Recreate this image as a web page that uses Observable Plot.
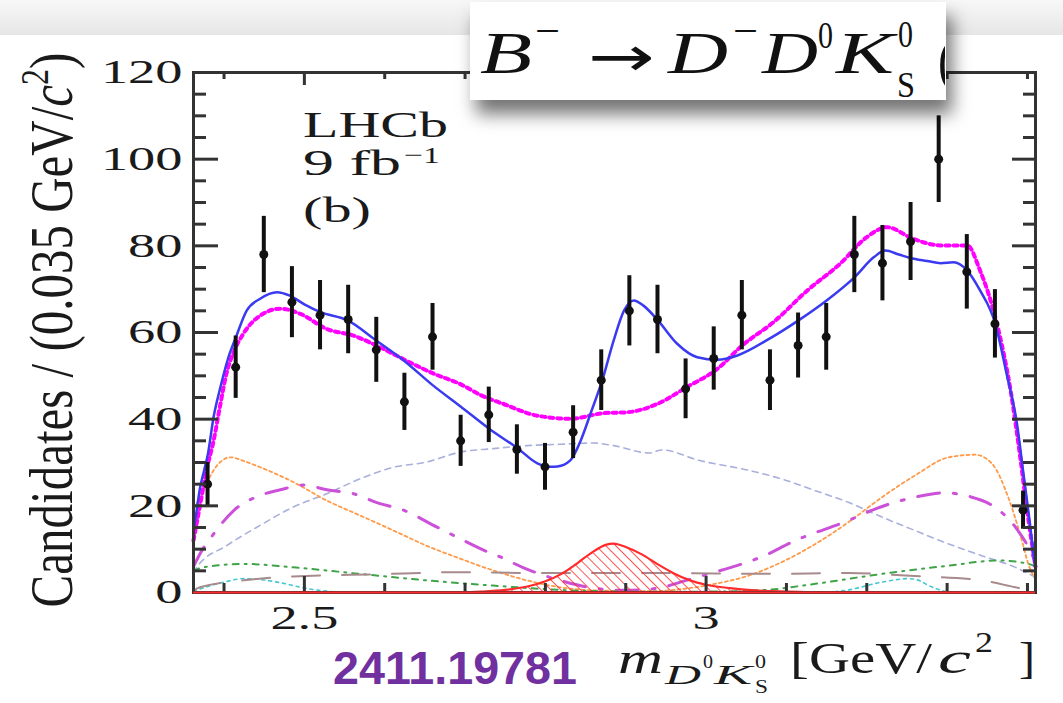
<!DOCTYPE html>
<html><head><meta charset="utf-8">
<script src="https://cdn.jsdelivr.net/npm/d3@7"></script>
<script src="https://cdn.jsdelivr.net/npm/@observablehq/plot@0.6"></script>
<style>body{margin:0;background:#fff}#chart{position:relative;width:1063px;height:703px}</style>
</head><body><div id="chart"></div>
<script>
// ---- data: binned candidates ----
const binCenters = [2.3795,2.4145,2.4495,2.4845,2.5195,2.5545,2.5895,2.6245,2.6595,2.6945,2.7295,2.7645,2.7995,2.8345,2.8695,2.9045,2.9395,2.9745,3.0095,3.0445,3.0795,3.1145,3.1495,3.1845,3.2195,3.2545,3.2895,3.3245,3.3595,3.3945];
const counts = [25,52,78,67,64,63,56,44,59,35,41,33,29,37,49,65,63,47,54,64,49,57,59,78,76,81,100,74,62,19];
const countErrors = [5,7.2,8.8,8.2,8,7.9,7.5,6.6,7.7,5.9,6.4,5.7,5.4,6.1,7,8.1,7.9,6.9,7.3,8,7,7.5,7.7,8.8,8.7,9,10,8.6,7.9,4.4];

// ---- total fit (blue) ----
const totalFitX = [2.362,2.366,2.370,2.375,2.380,2.387,2.395,2.405,2.415,2.428,2.445,2.466,2.482,2.500,2.520,2.554,2.589,2.624,2.660,2.694,2.730,2.766,2.790,2.805,2.815,2.831,2.844,2.856,2.871,2.885,2.898,2.910,2.922,2.940,2.964,2.989,3.014,3.039,3.080,3.115,3.150,3.185,3.209,3.223,3.240,3.254,3.275,3.292,3.308,3.325,3.341,3.360,3.374,3.387,3.395,3.403,3.410];
const totalFitY = [14,19,24,28,32,40.5,47,54,59,65,67.8,69.3,68.5,66.5,64.7,62.8,58.2,53.5,47.8,43,37.8,33.2,29.8,29,29.1,30.5,35.1,41.2,49.1,58.2,65.1,67.4,66.2,62.8,57.4,54.3,53.7,54.7,58.7,62.8,67.4,72.8,77.4,78.9,78,77.2,76.5,76,76.2,74.3,69.7,62,50.5,38.9,27.4,16,5];

// ---- alternative fit (magenta dotted) ----
const altFitX = [2.362,2.370,2.379,2.387,2.395,2.403,2.412,2.424,2.445,2.470,2.495,2.528,2.561,2.594,2.627,2.661,2.694,2.720,2.748,2.790,2.831,2.873,2.902,2.939,2.976,3.014,3.045,3.084,3.126,3.167,3.200,3.225,3.258,3.292,3.325,3.341,3.362,3.379,3.391,3.399,3.410];
const altFitY = [12,20,28.9,35,43,50.5,55.5,59.7,63.9,65.5,64.3,60.8,59.3,56.6,53.5,50.5,48.1,45.5,43.5,40.8,40.1,41.4,41.6,43.5,47.4,51.6,57,62.4,69.7,75.9,82,84.3,81.6,80.1,80.1,74.3,62,46.6,31.2,19.7,6];

// ---- components ----
const orangeX = [2.362,2.375,2.390,2.408,2.425,2.445,2.486,2.528,2.569,2.611,2.652,2.694,2.735,2.777,2.818,2.860,2.930,2.970,3.011,3.053,3.094,3.136,3.177,3.219,3.260,3.302,3.335,3.356,3.376,3.393,3.401,3.410];
const orangeY = [19,24,29,31.2,30.3,28.9,25.5,21.2,17.8,14.3,10.8,7.8,5.1,2.8,1.2,0.5,0.3,0.8,2.0,3.9,7.0,11.2,16.2,22.0,27.0,31.2,31.8,29.7,22,12,6.6,3];

const violetX = [2.362,2.370,2.387,2.412,2.445,2.470,2.499,2.528,2.561,2.594,2.619,2.665,2.694,2.719,2.744,2.773,2.818,2.860,2.900,2.940,2.970,3.003,3.045,3.070,3.111,3.177,3.211,3.260,3.296,3.327,3.356,3.385,3.401,3.410];
const violetY = [6,8.9,13.5,18.9,22.4,23.7,24.8,23.7,22.8,20.5,19.3,15.1,12.4,10.1,8.2,5.7,2.8,1.0,0.5,1.0,2.5,4.3,6.6,8.3,12,16.6,19.3,22,23,22.2,20.1,15.1,10.5,7];

const lavenderX = [2.362,2.366,2.403,2.445,2.486,2.528,2.569,2.611,2.652,2.694,2.735,2.777,2.818,2.860,2.885,2.929,2.945,2.991,3.053,3.094,3.136,3.177,3.219,3.260,3.302,3.343,3.385,3.410];
const lavenderY = [4.5,5.8,10.8,15.5,19.7,22.8,26.2,28.9,30.1,32.4,33.2,33.9,34.2,34.5,33.9,32.2,32.9,30.5,28.2,26.2,23.5,20.8,17.4,14.3,11.2,8.5,5.8,3.5];

const greenX = [2.362,2.374,2.424,2.486,2.569,2.652,2.735,2.818,2.900,3.000,3.074,3.136,3.219,3.302,3.364,3.401,3.410];
const greenY = [5,5.8,6.6,5.8,4.3,2.8,1.6,0.6,0.2,0.2,0.6,2.0,4.3,6.2,7.4,6.6,6];

const cyanX = [2.362,2.370,2.400,2.424,2.445,2.466,2.507,2.550,3.150,3.177,3.219,3.252,3.265,3.277,3.300];
const cyanY = [0.3,0.8,2.4,3.2,3.0,2.4,0.8,0.1,0.1,0.6,2.4,3.2,2.8,1.6,0.1];

const brownX = [2.362,2.370,2.424,2.486,2.590,2.694,2.777,2.949,3.074,3.177,3.248,3.343,3.385,3.410];
const brownY = [0.5,1.2,2.8,3.7,4.2,4.7,4.5,4.5,4.3,4.5,3.9,2.8,1.2,0.3];

// ---- signal (red hatched) ----
const signalX = [2.362,2.680,2.720,2.750,2.780,2.800,2.820,2.840,2.860,2.875,2.885,2.900,2.920,2.940,2.960,2.980,3.000,3.030,3.060,3.100,3.150,3.410];
const signalY = [0,0,0.2,0.6,1.5,2.6,4.3,6.8,9.5,11,11.3,10.5,8.8,6.5,4.4,2.8,1.8,1.0,0.5,0.2,0,0];

// ---- ticks ----
const yMajorTicks = [0,20,40,60,80,100,120];
const yTickLabels = ["0","20","40","60","80","100","120"];
const yMinorTicks = [5,10,15,25,30,35,45,50,55,65,70,75,85,90,95,105,110,115];
const xMajorTicks = [2.5,3];
const xTickLabels = ["2.5","3"];
const xMinorTicks = [2.4,2.6,2.7,2.8,2.9,3.1,3.2,3.3,3.4];

// ---- layout ----
const W = 1063, H = 703, mL = 193, mR = 28, mT = 72, mB = 111;
const xDom = [2.362, 3.41], yDom = [0, 120];
const pxX = (W - mL - mR) / (xDom[1] - xDom[0]);
const pxY = (H - mT - mB) / (yDom[1] - yDom[0]);

const pts = (xs, ys) => xs.map((x, i) => ({x, y: ys[i]}));
const data = binCenters.map((x, i) => ({x, n: counts[i], e: countErrors[i]}));
const tickCol = "#333";

const comp = (xs, ys, o) => Plot.line(pts(xs, ys), {x: "x", y: "y", curve: "monotone-x", ...o});

const plot = Plot.plot({
  width: W, height: H,
  marginLeft: mL, marginRight: mR, marginTop: mT, marginBottom: mB,
  x: {domain: xDom},
  y: {domain: yDom},
  style: {fontFamily: "Liberation Serif", color: "#1a1a1a", background: "transparent"},
  marks: [
    comp(lavenderX, lavenderY, {stroke: "#a9b0dc", strokeWidth: 1.6, strokeDasharray: "6,5"}),
    comp(orangeX, orangeY, {stroke: "#ff9a4a", strokeWidth: 1.8, strokeDasharray: "3,3"}),
    comp(violetX, violetY, {stroke: "#cc50d8", strokeWidth: 3, strokeDasharray: "22,14,3,14"}),
    comp(greenX, greenY, {stroke: "#3fa447", strokeWidth: 2, strokeDasharray: "6,6,2,6"}),
    comp(cyanX, cyanY, {stroke: "#45c8d0", strokeWidth: 1.6, strokeDasharray: "3,4"}),
    comp(brownX, brownY, {stroke: "#a88a8c", strokeWidth: 2, strokeDasharray: "28,22"}),
    Plot.areaY(pts(signalX, signalY), {x: "x", y: "y", curve: "monotone-x", fill: "url(#hatch)"}),
    comp(signalX, signalY, {stroke: "#ff2a2a", strokeWidth: 2.2}),
    comp(altFitX, altFitY, {stroke: "#ff00ff", strokeWidth: 4, strokeDasharray: "4,4"}),
    comp(totalFitX, totalFitY, {stroke: "#3a3af0", strokeWidth: 2.5}),
    Plot.ruleX(data, {x: "x", y1: d => d.n - d.e, y2: d => d.n + d.e, stroke: "#111", strokeWidth: 4}),
    Plot.dot(data, {x: "x", y: "n", r: 4.5, fill: "#111"}),
    Plot.ruleY(yMajorTicks, {y: d => d, x1: xDom[0], x2: xDom[0] + 25 / pxX, stroke: tickCol, strokeWidth: 3}),
    Plot.ruleY(yMinorTicks, {y: d => d, x1: xDom[0], x2: xDom[0] + 13 / pxX, stroke: tickCol, strokeWidth: 3}),
    Plot.ruleY(yMajorTicks, {y: d => d, x1: xDom[1] - 23 / pxX, x2: xDom[1], stroke: tickCol, strokeWidth: 3}),
    Plot.ruleY(yMinorTicks, {y: d => d, x1: xDom[1] - 12 / pxX, x2: xDom[1], stroke: tickCol, strokeWidth: 3}),
    Plot.ruleX(xMajorTicks, {x: d => d, y1: yDom[0], y2: yDom[0] + 16 / pxY, stroke: tickCol, strokeWidth: 3}),
    Plot.ruleX(xMinorTicks, {x: d => d, y1: yDom[0], y2: yDom[0] + 9 / pxY, stroke: tickCol, strokeWidth: 3}),
    Plot.ruleX(xMajorTicks, {x: d => d, y1: yDom[1] - 13 / pxY, y2: yDom[1], stroke: tickCol, strokeWidth: 3}),
    Plot.ruleX(xMinorTicks, {x: d => d, y1: yDom[1] - 7 / pxY, y2: yDom[1], stroke: tickCol, strokeWidth: 3}),
    Plot.frame({stroke: tickCol, strokeWidth: 3}),
    Plot.ruleY([0], {stroke: "#ff2a2a", strokeWidth: 2.2}),
    Plot.axisY({ticks: yMajorTicks, tickSize: 0, tickPadding: 11, fontSize: 34, label: null,
      tickFormat: d => yTickLabels[yMajorTicks.indexOf(d)]}),
    Plot.axisX({ticks: xMajorTicks, tickSize: 0, tickPadding: 12, fontSize: 34, label: null,
      tickFormat: d => xTickLabels[xMajorTicks.indexOf(d)]})
  ]
});

const svg = d3.select(plot);
// stretch the axis tick labels horizontally, like the reference
svg.selectAll('g[aria-label^="y-axis"] text, g[aria-label^="x-axis"] text').each(function() {
  const tr = this.getAttribute("transform");
  if (tr) {
    this.setAttribute("transform", tr + " scale(1.6,1)");
  } else {
    const x = +(this.getAttribute("x") || 0), y = +(this.getAttribute("y") || 0);
    this.setAttribute("x", 0); this.setAttribute("y", 0);
    this.setAttribute("transform", `translate(${x},${y}) scale(1.6,1)`);
  }
});

const defs = svg.insert("defs", ":first-child");
const pat = defs.append("pattern").attr("id", "hatch").attr("patternUnits", "userSpaceOnUse")
  .attr("width", 7).attr("height", 7).attr("patternTransform", "rotate(-45)");
pat.append("line").attr("x1", 0).attr("y1", 0).attr("x2", 0).attr("y2", 7)
  .attr("stroke", "#ff2a2a").attr("stroke-width", 1.6);
const grad = defs.append("linearGradient").attr("id", "topband").attr("x1", 0).attr("y1", 0).attr("x2", 0).attr("y2", 1);
grad.append("stop").attr("offset", "0%").attr("stop-color", "#f8f8f8");
grad.append("stop").attr("offset", "100%").attr("stop-color", "#e6e6e6");
const filt = defs.append("filter").attr("id", "shadow").attr("x", "-10%").attr("y", "-10%").attr("width", "130%").attr("height", "160%");
filt.append("feDropShadow").attr("dx", 6).attr("dy", 14).attr("stdDeviation", 9)
  .attr("flood-color", "#000").attr("flood-opacity", 0.55);

svg.insert("rect", "defs + *").attr("x", 0).attr("y", 0).attr("width", W).attr("height", 35).attr("fill", "url(#topband)");

function addText(parent, str, o) {
  const t = parent.append("text")
    .attr("x", o.x).attr("y", o.y)
    .attr("text-anchor", o.anchor || "start")
    .attr("font-family", o.family || "Liberation Serif")
    .attr("font-size", o.fs)
    .attr("font-style", o.italic ? "italic" : "normal")
    .attr("font-weight", o.weight || "normal")
    .attr("fill", o.fill || "#1a1a1a")
    .text(str);
  if (o.len) t.attr("textLength", o.len).attr("lengthAdjust", "spacingAndGlyphs");
  return t;
}

// LHCb labels
addText(svg, "LHCb", {x: 303, y: 137, fs: 35, len: 145});
addText(svg, "9 fb", {x: 303, y: 175, fs: 35, len: 98});
addText(svg, "\u22121", {x: 404, y: 163, fs: 24, len: 36});
addText(svg, "(b)", {x: 303, y: 222, fs: 35, len: 68});

// y-axis title
const yl = svg.append("text")
  .attr("transform", "translate(72,330) rotate(-90) scale(1,1.27)")
  .attr("text-anchor", "middle").attr("font-family", "Liberation Serif").attr("font-size", 49).attr("fill", "#1a1a1a");
yl.append("tspan").text("Candidates / (0.035 GeV/");
yl.append("tspan").attr("font-style", "italic").text("c");
yl.append("tspan").attr("font-size", 32).attr("dy", -19).text("2");
yl.append("tspan").attr("dy", 19).text(")");

// x-axis title
addText(svg, "m", {x: 618, y: 673, fs: 45, italic: true, len: 45});
addText(svg, "D", {x: 665, y: 684, fs: 28, italic: true, len: 36});
addText(svg, "0", {x: 703, y: 668, fs: 18, len: 10});
addText(svg, "K", {x: 714, y: 684, fs: 28, italic: true, len: 38});
addText(svg, "0", {x: 755, y: 668, fs: 18, len: 11});
addText(svg, "S", {x: 755, y: 693, fs: 18, len: 13});
addText(svg, "[GeV/", {x: 790, y: 673, fs: 45, len: 142});
addText(svg, "c", {x: 938, y: 673, fs: 45, italic: true, len: 33});
addText(svg, "2", {x: 975, y: 652, fs: 30, len: 18});
addText(svg, "]", {x: 1019, y: 673, fs: 45, len: 16});

// arXiv id
addText(svg, "2411.19781", {x: 333, y: 684, fs: 46, family: "Liberation Sans", weight: "bold", fill: "#7030a0", len: 244});

// title box
svg.append("rect").attr("x", 470).attr("y", 2).attr("width", 476).attr("height", 98)
  .attr("fill", "#fff").attr("filter", "url(#shadow)");
defs.append("clipPath").attr("id", "boxclip").append("rect").attr("x", 470).attr("y", 2).attr("width", 475).attr("height", 98);
const tg = svg.append("g").attr("clip-path", "url(#boxclip)");
addText(tg, "B", {x: 480, y: 73, fs: 60, italic: true, len: 52, fill: "#111"});
addText(tg, "\u2212", {x: 535, y: 44, fs: 40, len: 25, fill: "#111"});
addText(tg, "\u2192", {x: 588, y: 76, fs: 56, len: 67, fill: "#111", family: "DejaVu Sans"});
addText(tg, "D", {x: 668, y: 73, fs: 60, italic: true, len: 60, fill: "#111"});
addText(tg, "\u2212", {x: 733, y: 44, fs: 40, len: 25, fill: "#111"});
addText(tg, "D", {x: 762, y: 73, fs: 60, italic: true, len: 56, fill: "#111"});
addText(tg, "0", {x: 818, y: 48, fs: 38, len: 15, fill: "#111"});
addText(tg, "K", {x: 836, y: 73, fs: 60, italic: true, len: 58, fill: "#111"});
addText(tg, "0", {x: 898, y: 47, fs: 38, len: 15, fill: "#111"});
addText(tg, "S", {x: 897, y: 97, fs: 36, len: 18, fill: "#111"});
addText(tg, "(", {x: 938, y: 80, fs: 60, len: 16, fill: "#111"});

document.getElementById("chart").appendChild(plot);
</script>
</body></html>
